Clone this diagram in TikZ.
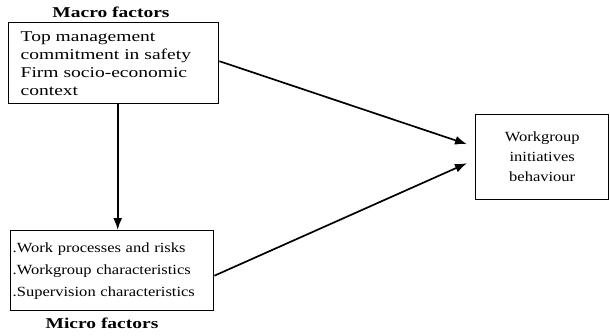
\documentclass[tikz,border=0pt]{standalone}
\usepackage{fontspec}
\setmainfont[FakeStretch=1.3]{Liberation Serif}
\newfontfamily\narrowfont[FakeStretch=1.18]{Liberation Serif}
\usetikzlibrary{arrows.meta,positioning}
\tikzset{>={Latex[length=12pt,width=9pt]}}
\tikzset{box/.style={draw,line width=1.4pt,rectangle,inner ysep=0pt,anchor=north west}}
\newcommand*{\fs}[2]{\fontsize{#1}{#2}\selectfont}

\begin{document}
\begin{tikzpicture}[x=1pt,y=-1pt]
\useasboundingbox (0,0) rectangle (610,335);
\node[box,minimum width=210pt,minimum height=81pt,inner xsep=12pt,
      text width=186pt,align=left,font=\fs{15}{18}] (macro) at (8,22)
  {Top management\\commitment in safety\\Firm socio-economic\\context};
\node[font=\bfseries\fs{15}{18}] (macrolbl) at (111,12) {Macro factors};
\node[box,minimum width=203pt,minimum height=80pt,inner xsep=2pt,
      text width=199pt,align=left,font=\narrowfont\fs{14}{22}] (micro) at (10,230)
  {.Work processes and risks\\.Workgroup characteristics\\.Supervision characteristics};
\node[font=\bfseries\fs{15}{18}] (microlbl) at (102,323) {Micro factors};
\node[box,minimum width=133pt,minimum height=85pt,
      align=center,font=\narrowfont\fs{14}{20}] (result) at (475,114)
  {Workgroup\\initiatives\\behaviour};
\draw[->,line width=1.7pt] ([xshift=4pt]macro.south) -- ([xshift=4pt]macro.south |- micro.north);
\draw[->,line width=1.7pt] ([yshift=2pt]macro.east) -- ([xshift=-8pt,yshift=13pt]result.west);
\draw[->,line width=1.7pt] ([yshift=-5pt]micro.east) -- ([xshift=-8pt,yshift=-6pt]result.west);
\end{tikzpicture}
\end{document}
